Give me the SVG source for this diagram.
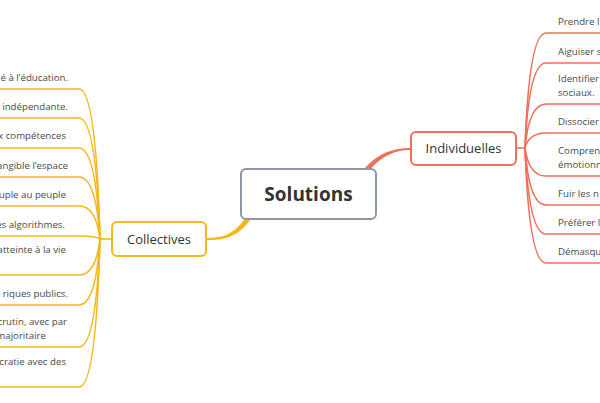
<svg xmlns="http://www.w3.org/2000/svg" width="600" height="403" viewBox="0 0 600 403">
<style>
.yl{fill:none;stroke:#F4B71E;stroke-width:1.6}
.rd{fill:none;stroke:#EE705C;stroke-width:1.6}
.leaf{font-family:"Open Sans","Liberation Sans",sans-serif;font-size:9.7px;fill:#4a4a4a}
.lt{text-anchor:end}
.nd{font-family:"Open Sans","Liberation Sans",sans-serif;font-size:13px;fill:#333;text-anchor:middle}
.box{fill:#fff;stroke-width:2}
</style>
<rect width="600" height="403" fill="#fff"/>
<g id="connectors">
<path d="M252,217.4 C238,237.5 225,240 206,240 L206,238 C224,238 234,235 248,214.6 Z" fill="#F4B71E"/>
<path d="M360,174.6 C374,154.6 391,148 411,148 L411,150 C393,150 378,157.4 364,177.4 Z" fill="#EE705C"/>
<path class="yl" d="M112,239 H100"/>
<path class="yl" d="M-5,89 H79 Q96,89 100,239"/>
<path class="yl" d="M-5,118 H79 Q96,118 100,239"/>
<path class="yl" d="M-5,148 H79 Q96,148 100,239"/>
<path class="yl" d="M-5,177 H79 Q96,177 100,239"/>
<path class="yl" d="M-5,206 H79 Q96,206 100,239"/>
<path class="yl" d="M-5,236 H79 Q96,236 100,239"/>
<path class="yl" d="M-5,275 H79 Q96,275 100,239"/>
<path class="yl" d="M-5,305 H79 Q96,305 100,239"/>
<path class="yl" d="M-5,347 H79 Q96,347 100,239"/>
<path class="yl" d="M-5,387 H79 Q96,387 100,239"/>
<path class="rd" d="M516,148 H525"/>
<path class="rd" d="M605,33 H546 Q529,33 525,148"/>
<path class="rd" d="M605,63 H546 Q529,63 525,148"/>
<path class="rd" d="M605,104 H546 Q529,104 525,148"/>
<path class="rd" d="M605,133 H546 Q529,133 525,148"/>
<path class="rd" d="M605,176 H546 Q529,176 525,148"/>
<path class="rd" d="M605,205 H546 Q529,205 525,148"/>
<path class="rd" d="M605,234 H546 Q529,234 525,148"/>
<path class="rd" d="M605,263 H546 Q529,263 525,148"/>
</g>
<g id="solutions">
<rect class="box" x="241" y="169" width="135" height="50" rx="5" stroke="#8D97A5"/>
<text x="308.5" y="200.5" font-family="'Open Sans','Liberation Sans',sans-serif" font-size="19" font-weight="bold" fill="#333" text-anchor="middle">Solutions</text>
</g>
<g id="collectives">
<rect class="box" x="112" y="222" width="94" height="34" rx="5" stroke="#F4B71E"/>
<text class="nd" x="159" y="243.5">Collectives</text>
</g>
<g id="individuelles">
<rect class="box" x="411" y="132" width="105" height="33" rx="5" stroke="#EE705C"/>
<text class="nd" x="463.5" y="153">Individuelles</text>
</g>
<g id="collectives-leaves">
<text class="leaf lt" x="68" y="80.5">é à l’éducation.</text>
<text class="leaf lt" x="68" y="109.5">indépendante.</text>
<text class="leaf lt" x="66" y="138.5">x compétences</text>
<text class="leaf lt" x="68" y="168.5">angible l’espace</text>
<text class="leaf lt" x="66" y="197.5">uple au peuple</text>
<text class="leaf lt" x="65" y="227.5">es algorithmes.</text>
<text class="leaf lt" x="66" y="252.5">atteinte à la vie</text>
<text class="leaf lt" x="68" y="296.5">riques publics.</text>
<text class="leaf lt" x="67" y="324.5">crutin, avec par</text>
<text class="leaf lt" x="46" y="338.5">majoritaire</text>
<text class="leaf lt" x="66" y="364.5">cratie avec des</text>
</g>
<g id="individuelles-leaves">
<text class="leaf" x="558" y="24.5">Prendre l</text>
<text class="leaf" x="558" y="54.5">Aiguiser s</text>
<text class="leaf" x="558" y="81.5">Identifier</text>
<text class="leaf" x="558" y="95.5">sociaux.</text>
<text class="leaf" x="558" y="124.5">Dissocier</text>
<text class="leaf" x="558" y="153.5">Compren</text>
<text class="leaf" x="558" y="167.5">émotionn</text>
<text class="leaf" x="558" y="196.5">Fuir les n</text>
<text class="leaf" x="558" y="225.5">Préférer l</text>
<text class="leaf" x="558" y="254.5">Démasqu</text>
</g>
</svg>
